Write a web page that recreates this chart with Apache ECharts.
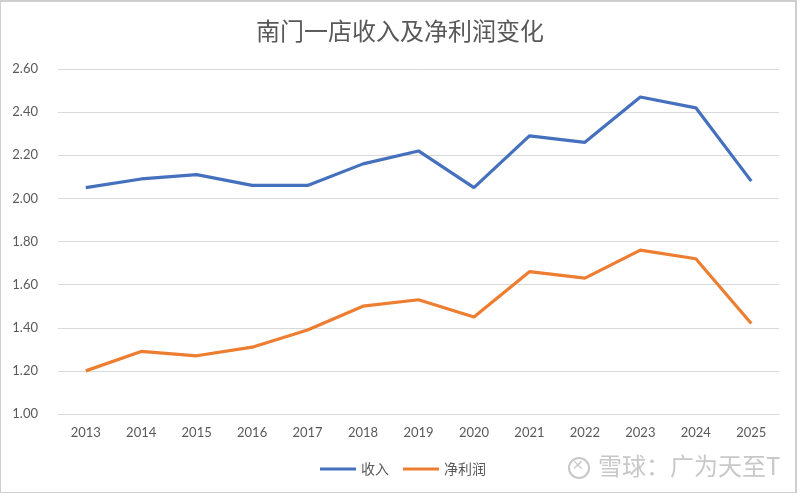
<!DOCTYPE html>
<html>
<head>
<meta charset="utf-8">
<script src="https://cdn.jsdelivr.net/npm/echarts@6/dist/echarts.min.js"></script>
<style>
html,body{margin:0;padding:0;background:#fff;}
#frame{position:absolute;left:0;top:0;width:794px;height:490px;border:1px solid #cfcfcf;border-top-width:2px;border-right-width:2px;}
#c{position:absolute;left:0;top:0;width:800px;height:496px;}
</style>
</head>
<body>
<div id="frame"></div>
<div id="c"></div>
<script>
const categories = ['2013','2014','2015','2016','2017','2018','2019','2020','2021','2022','2023','2024','2025'];
const revenue = [2.05, 2.09, 2.11, 2.06, 2.06, 2.16, 2.22, 2.05, 2.29, 2.26, 2.47, 2.42, 2.08];
const netProfit = [1.20, 1.29, 1.27, 1.31, 1.39, 1.50, 1.53, 1.45, 1.66, 1.63, 1.76, 1.72, 1.42];
const seriesNames = ['收入', '净利润'];
const titleText = '南门一店收入及净利润变化';
const watermark = '雪球：广为天至T';

const chart = echarts.init(document.getElementById('c'));
chart.setOption({
  animation: false,
  backgroundColor: 'transparent',
  title: {
    text: titleText, left: 'center', top: 14,
    textStyle: {fontFamily: 'Noto Sans CJK SC', fontSize: 24, fontWeight: 'normal', color: '#595959'}
  },
  legend: {
    data: seriesNames, left: 315, top: 457,
    icon: 'rect', itemWidth: 36, itemHeight: 3, itemGap: 14,
    textStyle: {fontFamily: 'Noto Sans CJK SC', fontSize: 14, color: '#595959'}
  },
  grid: {left: 58, right: 21, top: 69, bottom: 82},
  xAxis: {
    type: 'category', data: categories, boundaryGap: true,
    axisLine: {lineStyle: {color: '#d9d9d9'}},
    axisTick: {show: false},
    axisLabel: {color: '#595959', fontFamily: 'Lato', fontSize: 13, margin: 12}
  },
  yAxis: {
    type: 'value', min: 1.0, max: 2.6, interval: 0.2,
    axisLine: {show: false}, axisTick: {show: false},
    splitLine: {lineStyle: {color: '#d9d9d9', width: 1}},
    axisLabel: {color: '#595959', fontFamily: 'Lato', fontSize: 13, margin: 20,
      formatter: v => v.toFixed(2)}
  },
  series: [
    {name: seriesNames[0], type: 'line', data: revenue, symbol: 'none',
     lineStyle: {color: '#4470BE', width: 3.2}, itemStyle: {color: '#4470BE'}},
    {name: seriesNames[1], type: 'line', data: netProfit, symbol: 'none',
     lineStyle: {color: '#ED7D31', width: 3.2}, itemStyle: {color: '#ED7D31'}}
  ],
  graphic: [
    {type: 'circle', shape: {cx: 579, cy: 468, r: 10}, style: {fill: 'none', stroke: '#c8c8c8', lineWidth: 2}},
    {type: 'text', left: 572, top: 459, style: {text: '✕', fill: '#c8c8c8', font: '14px "DejaVu Sans"'}},
    {type: 'text', left: 598, top: 454, style: {text: watermark, fill: '#c8c8c8', font: '24px "Noto Sans CJK SC"'}}
  ]
});
</script>
</body>
</html>
